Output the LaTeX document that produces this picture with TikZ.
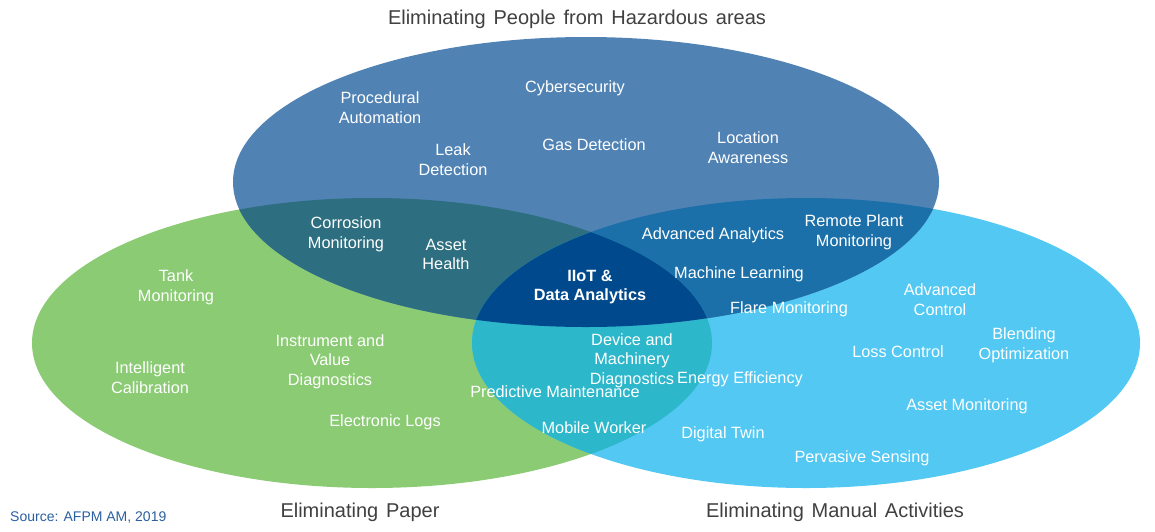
\documentclass[tikz,border=0pt]{standalone}
\usepackage{fontspec}
\setmainfont{Liberation Sans}
\newfontfamily\titulofont[WordSpace=1.4]{Liberation Sans}
\usetikzlibrary{positioning}
\definecolor{azulArriba}{RGB}{80,131,180}
\definecolor{verdePapel}{RGB}{138,203,116}
\definecolor{celeste}{RGB}{82,200,242}
\definecolor{verdeAzul}{RGB}{45,111,128}
\definecolor{azulMedio}{RGB}{28,112,170}
\definecolor{turquesa}{RGB}{45,183,203}
\definecolor{azulOscuro}{RGB}{0,73,140}
\definecolor{fuente}{RGB}{42,95,160}
% las tres zonas del diagrama
\newcommand{\zonaPeligro}{(586,182) ellipse [x radius=353pt, y radius=145pt]}
\newcommand{\zonaPapel}{(372,343) ellipse [x radius=340pt, y radius=145pt]}
\newcommand{\zonaManual}{(806,343) ellipse [x radius=334pt, y radius=145pt]}

\begin{document}
\begin{tikzpicture}[x=1pt, y=-1pt,
  item/.style={text=white, align=center, inner sep=0pt, yshift=-2pt, font=\fontsize{16.3}{19.5}\selectfont},
  titulo/.style={text=black!75, inner sep=0pt, yshift=-1.5pt, font=\titulofont\fontsize{20}{24}\selectfont}]
\useasboundingbox (0,0) rectangle (1155,531);
% Figura: tres elipses que se cortan
\fill[verdePapel] \zonaPapel;
\fill[celeste] \zonaManual;
\fill[azulArriba] \zonaPeligro;
% Cortes de dos en dos
\begin{scope}
\clip \zonaPeligro;
\fill[verdeAzul] \zonaPapel;
\fill[azulMedio] \zonaManual;
\end{scope}
\begin{scope}
\clip \zonaPapel;
\fill[turquesa] \zonaManual;
\end{scope}
% Centro: las tres a la vez
\begin{scope}
\clip \zonaPeligro;
\clip \zonaPapel;
\fill[azulOscuro] \zonaManual;
\end{scope}
% Titulos de cada zona
\node[titulo] (peligro) at (577,18) {Eliminating People from Hazardous areas};
\node[titulo] (papel) at (360,511) {Eliminating Paper};
\node[titulo] (manual) at (835,511) {Eliminating Manual Activities};
\node[anchor=west, inner sep=0pt, text=fuente, font=\fontsize{14}{16}\selectfont] (fuente) at (10,517.5) {Source: AFPM AM, 2019};
% Zona de arriba
\node[item] (procedural) at (380,105.5) {Procedural\\Automation};
\node[item] (ciber) at (575,86) {Cybersecurity};
\node[item] (fuga) at (453,157.5) {Leak\\Detection};
\node[item] (gas) at (594,143) {Gas Detection};
\node[item] (ubicacion) at (748,145.5) {Location\\Awareness};
% Arriba y papel
\node[item] (corrosion) at (346,232.5) {Corrosion\\Monitoring};
\node[item] (salud) at (446,252.5) {Asset\\Health};
% Arriba y manual
\node[item] (analitica) at (713,233) {Advanced Analytics};
\node[item] (remota) at (854,230.5) {Remote Plant\\Monitoring};
\node[item] (aprendizaje) at (739,272) {Machine Learning};
\node[item] (antorcha) at (789,307) {Flare Monitoring};
% Centro
\node[item, font=\bfseries\fontsize{16.3}{19.5}\selectfont] (iiot) at (590,285) {IIoT \&\\Data Analytics};
% Zona papel
\node[item] (tanque) at (176,285.5) {Tank\\Monitoring};
\node[item] (instrumento) at (330,359.5) {Instrument and\\Value\\Diagnostics};
\node[item] (calibracion) at (150,375.5) {Intelligent\\Calibration};
\node[item] (registros) at (385,420) {Electronic Logs};
% Papel y manual
\node[item] (equipo) at (632,358.5) {Device and\\Machinery\\Diagnostics};
\node[item] (predictivo) at (555,390) {Predictive Maintenance};
\node[item] (movil) at (594,426) {Mobile Worker};
% Zona manual
\node[item] (control) at (940,297.5) {Advanced\\Control};
\node[item] (mezcla) at (1024,343.5) {Blending\\Optimization};
\node[item] (perdidas) at (898,350) {Loss Control};
\node[item] (energia) at (740,377) {Energy Efficiency};
\node[item] (activos) at (967,404) {Asset Monitoring};
\node[item] (gemelo) at (723,432) {Digital Twin};
\node[item] (sensores) at (862,456) {Pervasive Sensing};
\end{tikzpicture}
\end{document}
